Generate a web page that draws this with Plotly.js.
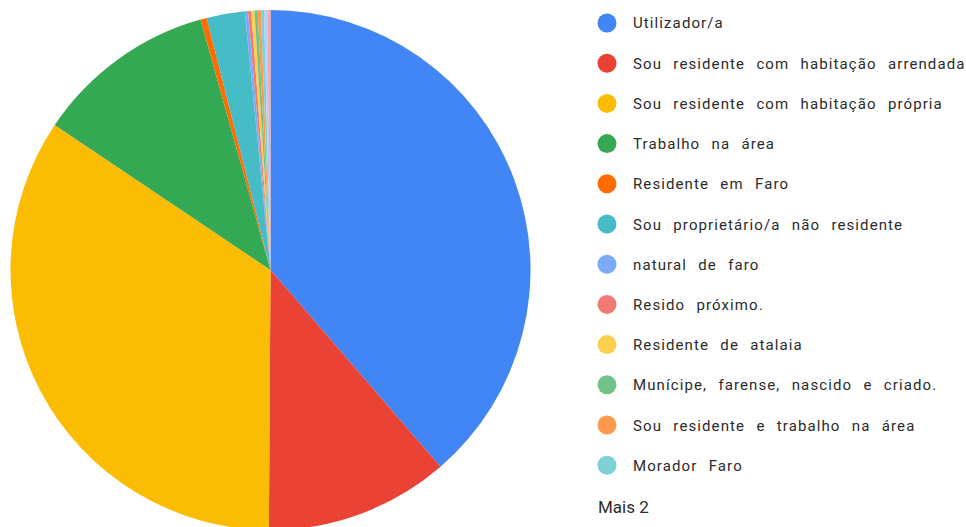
<!DOCTYPE html>
<html>
<head>
<meta charset="utf-8">
<script src="https://cdn.plot.ly/plotly-3.0.1.min.js"></script>
<style>
html,body{margin:0;padding:0;overflow:hidden;background:#fff;}
#chart{width:966px;height:540px;}
</style>
</head>
<body>
<div id="chart"></div>
<script>
// Data
const categories = [
  "Utilizador/a",
  "Sou residente com habitação arrendada",
  "Sou residente com habitação própria",
  "Trabalho na área",
  "Residente em Faro",
  "Sou proprietário/a não residente",
  "natural de faro",
  "Resido próximo.",
  "Residente de atalaia",
  "Munícipe, farense, nascido e criado.",
  "Sou residente e trabalho na área",
  "Morador Faro",
  "Outro (1)",
  "Outro (2)"
];
const counts = [196, 58, 174, 57, 2, 12, 1, 1, 1, 1, 1, 1, 1, 1];
const colors = ["#4285F4","#EA4335","#FBBC04","#34A853","#FF6D01","#46BDC6",
                "#7BAAF7","#F07B72","#FCD04F","#71C287","#FF994D","#7ED1D7",
                "#B3CEFB","#F7A7A0"];
const legendShown = 12;
const moreLabel = "Mais 2";

const W = 966, H = 540;
const cx = 270.5, cy = 270, r = 260;

const trace = {
  type: "pie",
  labels: categories,
  values: counts,
  sort: false,
  direction: "clockwise",
  rotation: 0,
  textinfo: "none",
  hoverinfo: "label+value+percent",
  marker: {colors: colors, line: {width: 0}},
  domain: {x: [(cx - r) / W, (cx + r) / W], y: [1 - (cy + r) / H, 1 - (cy - r) / H]},
  showlegend: false
};

const shapes = [];
const annotations = [];
const legX = 607, txtX = 632, legY0 = 23, legStep = 40.2;
for (let i = 0; i < legendShown; i++) {
  const py = legY0 + i * legStep;
  shapes.push({
    type: "circle", xref: "paper", yref: "paper",
    xsizemode: "pixel", ysizemode: "pixel",
    xanchor: legX / W, yanchor: 1 - py / H,
    x0: -9.5, x1: 9.5, y0: -9.5, y1: 9.5,
    fillcolor: colors[i], line: {width: 0}
  });
  annotations.push({
    xref: "paper", yref: "paper", x: txtX / W, y: 1 - (py + 0.5) / H,
    xanchor: "left", yanchor: "middle", align: "left", showarrow: false,
    borderpad: 0,
    text: categories[i],
    font: {family: "Roboto, Arial, sans-serif", size: 15, color: "#2b2b2b"}
  });
}
annotations.push({
  xref: "paper", yref: "paper", x: 597 / W, y: 1 - 507 / H,
  xanchor: "left", yanchor: "middle", align: "left", showarrow: false,
  borderpad: 0,
  text: moreLabel,
  font: {family: "Roboto, Arial, sans-serif", size: 17, color: "#2b2b2b"}
});

const layout = {
  width: W, height: H,
  margin: {l: 0, r: 0, t: 0, b: 0},
  paper_bgcolor: "#fff",
  showlegend: false,
  shapes: shapes,
  annotations: annotations
};

Plotly.newPlot("chart", [trace], layout, {displayModeBar: false, staticPlot: true}).then(function () {
  const texts = document.querySelectorAll(".annotation-text");
  texts.forEach(function (t, i) {
    if (i < legendShown) {
      t.style.letterSpacing = "1.1px";
      t.style.wordSpacing = "6.5px";
    }
  });
});
</script>
</body>
</html>
